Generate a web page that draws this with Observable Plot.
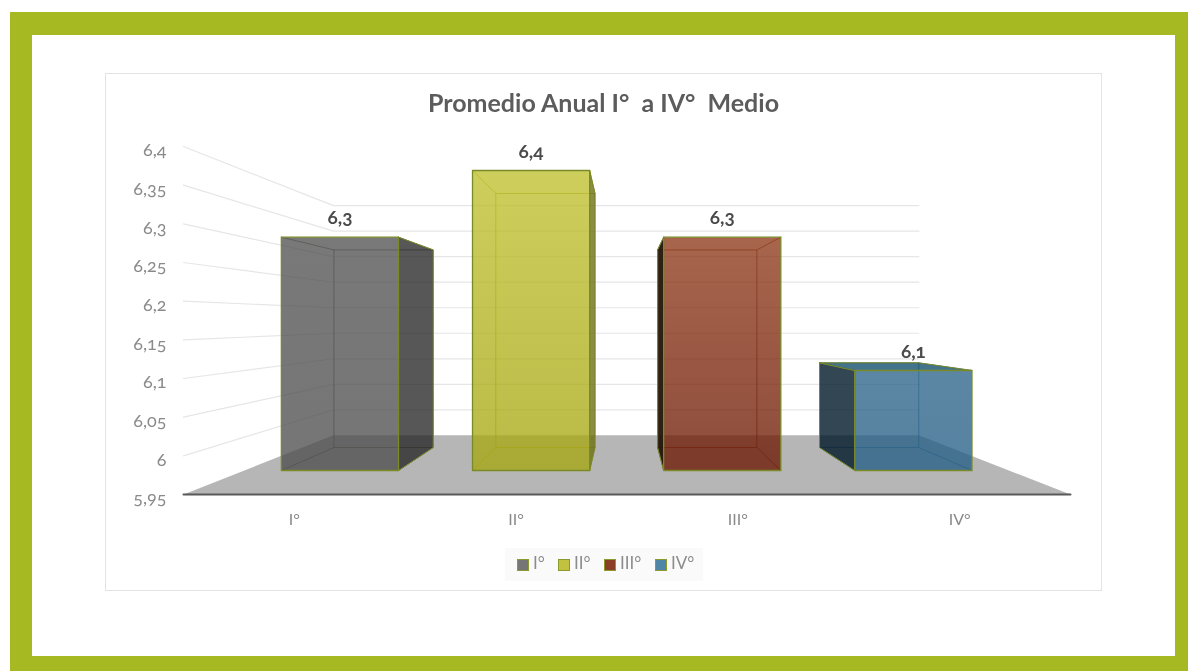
<!DOCTYPE html>
<html lang="es">
<head>
<meta charset="utf-8">
<title>Promedio Anual</title>
<script src="https://cdn.jsdelivr.net/npm/d3@7"></script>
<script src="https://cdn.jsdelivr.net/npm/@observablehq/plot@0.6"></script>
<style>
  html, body { margin: 0; padding: 0; width: 1188px; height: 671px; overflow: hidden; background: #fff; }
  body { position: relative; font-family: Lato, "Open Sans", sans-serif; font-variant-numeric: oldstyle-nums; }
  #green { position: absolute; left: 10px; top: 12px; width: 1178px; height: 659px; box-sizing: border-box;
           border-style: solid; border-color: #a6b822; border-width: 23px 13px 15px 22px; background: #fff; }
  #box { position: absolute; left: 105px; top: 73px; width: 997px; height: 518px; box-sizing: border-box; border: 1.5px solid #e3e3e3; }
  #title { position: absolute; left: 105px; width: 997px; top: 87px; text-align: center; font-weight: 700; font-size: 25px; color: #5c5c5c; white-space: pre; }
  #legend { position: absolute; left: 505px; top: 548px; width: 198px; height: 33px; background: #fafafa; }
  #legend span { position: absolute; top: 4px; font-size: 17px; color: #8c8c8c; }
  #legend i { position: absolute; top: 11px; width: 12px; height: 12px; box-sizing: border-box; border: 1.5px solid #8a9a2e; }
  #root { position: absolute; left: 0; top: 0; width: 1188px; height: 671px; filter: blur(0.7px); }
</style>
</head>
<body>
<div id="root">
  <div id="green"></div>
  <div id="box"></div>
  <div id="chart"></div>
  <div id="title">Promedio Anual I°  a IV°  Medio</div>
  <div id="legend"></div>
</div>
<script>
// Data
const categories = ["I°", "II°", "III°", "IV°"];
const values = [6.3, 6.4, 6.3, 6.1];
const yTicks = [5.95, 6, 6.05, 6.1, 6.15, 6.2, 6.25, 6.3, 6.35, 6.4];

// Styles
const frontStops = [["#505050", "#4c4c4c"], ["#bfbf2b", "#a5a50f"], ["#8e3717", "#6a1500"], ["#2a6288", "#225d84"]];
const sideFill = ["#252525", "#6a6a10", "#221408", "#001828"];
const sideOpacity = [0.77, 0.77, 0.95, 0.8];
const topFill = ["#252525", "#6a6a10", "#2a1a10", "#0c4a68"];
const innerStroke = ["#60604a", "#9a9a22", "#7a3a1a", "#3a7088"];
const swatch = ["#767676", "#c2c240", "#8a3f26", "#4f86a6"];
const edge = "#7a8a28";

// Perspective of the 3D view: u = category axis position, v = value, s = depth scale
const eyeU = 1.989, eyeV = 6.175;
const sFront = 0.862, sBack = 0.73, sWall = 0.66;
const halfBar = 0.3065;
const floorV = yTicks[0];
const P = (u, v, s) => [eyeU + (u - eyeU) * s, eyeV + (v - eyeV) * s];
const X = (d) => d[0], Y = (d) => d[1];
const poly = (pts, o) => Plot.line(pts, {x: X, y: Y, ...o});
const fmt = (d) => String(d).replace(".", ",");
const U = categories.length;

const marks = [];

// wall gridlines (left wall + back wall)
for (const t of yTicks.slice(1)) {
  marks.push(poly([P(0, t, 1), P(0, t, sWall), P(U, t, sWall)], {stroke: "#e6e6e6", strokeWidth: 1.2}));
}
// floor
marks.push(poly([P(0, floorV, 1), P(U, floorV, 1), P(U, floorV, sWall), P(0, floorV, sWall), P(0, floorV, 1)],
  {fill: "#b6b6b6", stroke: "none"}));
// axis line
marks.push(poly([P(0, floorV, 1), P(U, floorV, 1)], {stroke: "#595959", strokeWidth: 2}));

// bars
categories.forEach((c, i) => {
  const v = values[i];
  const u1 = i + 0.5 - halfBar, u2 = i + 0.5 + halfBar;
  const rightSide = i + 0.5 < eyeU;
  const su = rightSide ? u2 : u1;
  // back edges, seen through the front face
  marks.push(poly([P(u1, v, sBack), P(u2, v, sBack), P(u2, floorV, sBack), P(u1, floorV, sBack), P(u1, v, sBack)],
    {stroke: innerStroke[i], strokeWidth: 1, strokeOpacity: 0.7}));
  for (const [a, b] of [[u1, v], [u2, v], [u1, floorV], [u2, floorV]]) {
    marks.push(poly([P(a, b, sFront), P(a, b, sBack)], {stroke: innerStroke[i], strokeWidth: 1, strokeOpacity: 0.7}));
  }
  // visible side
  marks.push(poly([P(su, v, sFront), P(su, v, sBack), P(su, floorV, sBack), P(su, floorV, sFront), P(su, v, sFront)],
    {fill: sideFill[i], fillOpacity: sideOpacity[i], stroke: edge, strokeWidth: 1}));
  // top, only visible below the eye level
  if (v < eyeV) {
    marks.push(poly([P(u1, v, sFront), P(u2, v, sFront), P(u2, v, sBack), P(u1, v, sBack), P(u1, v, sFront)],
      {fill: topFill[i], fillOpacity: 0.77, stroke: edge, strokeWidth: 1}));
  }
  // front
  marks.push(poly([P(u1, v, sFront), P(u2, v, sFront), P(u2, floorV, sFront), P(u1, floorV, sFront), P(u1, v, sFront)],
    {fill: `url(#front${i})`, fillOpacity: 0.77, stroke: edge, strokeWidth: 1.3}));
});

// value labels
marks.push(Plot.text(categories.map((c, i) => P(i + 0.5, values[i], sFront)), {
  x: X, y: Y, text: (d, i) => fmt(values[i]), dy: -19, fontSize: 19, fontWeight: 700, fill: "#4a4a4a"
}));
// y tick labels
marks.push(Plot.text(yTicks, {
  x: () => 0, y: (d) => d, text: fmt, dx: -17, dy: 4, textAnchor: "end", fontSize: 18, fill: "#8a8a8a"
}));
// category labels
marks.push(Plot.text(categories, {
  x: (d, i) => i + 0.5, y: () => floorV, text: (d) => d, dy: 25, fontSize: 16, fill: "#8a8a8a"
}));

const svg = Plot.plot({
  width: 1188, height: 671,
  margin: 0,
  x: {type: "linear", domain: [0, U], range: [183, 1070], axis: null},
  y: {type: "linear", domain: [yTicks[0], yTicks[yTicks.length - 1]], range: [494, 146], axis: null},
  style: {position: "absolute", left: 0, top: 0, background: "transparent", fontFamily: "Lato, 'Open Sans', sans-serif", fontVariantNumeric: "oldstyle-nums"},
  marks
});
const defs = d3.select(svg).insert("defs", ":first-child");
frontStops.forEach(([a, b], i) => {
  const g = defs.append("linearGradient").attr("id", `front${i}`).attr("x1", 0).attr("y1", 0).attr("x2", 0).attr("y2", 1);
  g.append("stop").attr("offset", "0").attr("stop-color", a);
  g.append("stop").attr("offset", "1").attr("stop-color", b);
});
document.getElementById("chart").append(svg);

// legend
const legend = d3.select("#legend");
const swatchLeft = [12, 53, 99, 150];
categories.forEach((c, i) => {
  legend.append("i").style("left", swatchLeft[i] + "px").style("background", swatch[i]);
  legend.append("span").style("left", (swatchLeft[i] + 16) + "px").text(c);
});
</script>
</body>
</html>
